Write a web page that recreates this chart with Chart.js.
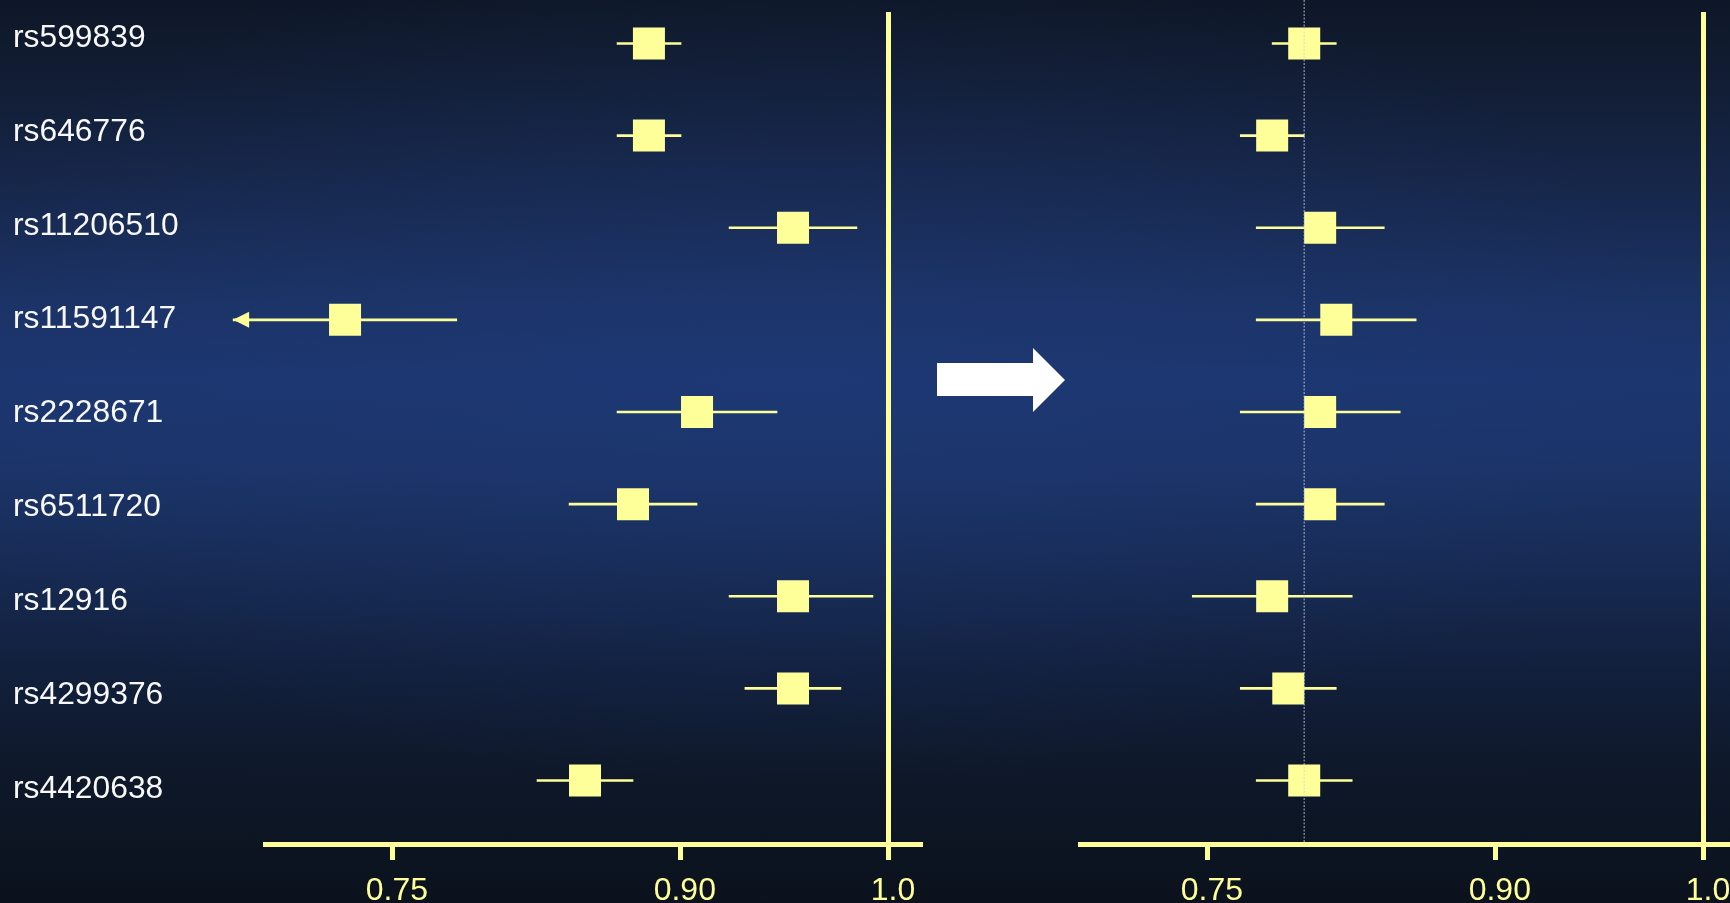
<!DOCTYPE html>
<html>
<head>
<meta charset="utf-8">
<script src="https://cdn.jsdelivr.net/npm/chart.js@4/dist/chart.umd.min.js"></script>
<style>
html, body { margin: 0; padding: 0; }
body {
  width: 1730px; height: 903px; overflow: hidden; position: relative;
  background:
    radial-gradient(ellipse 900px 420px at 45% 40%, rgba(32,60,125,0.30), rgba(32,60,125,0) 100%),
    linear-gradient(180deg, #0e1727 0%, #121e36 10%, #17284d 22%, #1b3366 34%, #1c3670 42%, #1b3468 52%, #172b55 62%, #12203d 74%, #0e1829 86%, #0b121d 100%);
}
#cBefore { position: absolute; left: 0; top: 0; width: 935px; height: 903px; }
#cAfter { position: absolute; left: 1060px; top: 0; width: 680px; height: 903px; }
#arrow { position: absolute; left: 0; top: 0; }
</style>
</head>
<body>
<canvas id="cBefore" width="935" height="903"></canvas>
<svg id="arrow" width="1730" height="903"><polygon points="937,363 1033,363 1033,348 1065,380 1033,412 1033,396 937,396" fill="#ffffff"/></svg>
<canvas id="cAfter" width="680" height="903"></canvas>
<script>
// ---------------- data ----------------
const categories = ['rs599839', 'rs646776', 'rs11206510', 'rs11591147', 'rs2228671', 'rs6511720', 'rs12916', 'rs4299376', 'rs4420638'];

// left panel (before)
const orBefore = [0.8834, 0.8834, 0.9539, 0.7251, 0.9078, 0.8751, 0.9539, 0.9539, 0.8501];
const loBefore = [0.8668, 0.8668, 0.9232, 0.6668, 0.8668, 0.8418, 0.9232, 0.9308, 0.8251];
const hiBefore = [0.9001, 0.9001, 0.9846, 0.7833, 0.9462, 0.9078, 0.9923, 0.9769, 0.8751];

// right panel (after)
const orAfter = [0.8002, 0.7835, 0.8085, 0.8169, 0.8085, 0.8085, 0.7835, 0.7919, 0.8002];
const loAfter = [0.7835, 0.7669, 0.7752, 0.7752, 0.7669, 0.7752, 0.7419, 0.7669, 0.7752];
const hiAfter = [0.8169, 0.8002, 0.8419, 0.8585, 0.8502, 0.8419, 0.8252, 0.8169, 0.8252];
const pooledAfter = [0.8002];

const tickValues = [0.75, 0.90, 1.0];
const tickLabels = ['0.75', '0.90', '1.0'];

// ---------------- style ----------------
const YELLOW = '#ffff99';
const LABEL = '#f8f8f8';
const AXIS_WARP = [0, 0.5804, 1];   // relative spacing of the printed tick values
Chart.defaults.font.family = "'Liberation Sans', Arial, sans-serif";

class WarpScale extends Chart.LinearScale {
  _u(v) {
    const a = tickValues, f = AXIS_WARP;
    let k = 0;
    while (k < a.length - 2 && v > a[k + 1]) k++;
    return f[k] + (v - a[k]) * (f[k + 1] - f[k]) / (a[k + 1] - a[k]);
  }
  _v(u) {
    const a = tickValues, f = AXIS_WARP;
    let k = 0;
    while (k < f.length - 2 && u > f[k + 1]) k++;
    return a[k] + (u - f[k]) * (a[k + 1] - a[k]) / (f[k + 1] - f[k]);
  }
  getPixelForValue(value) {
    if (value === null || value === undefined || isNaN(value)) return NaN;
    const u0 = this._u(this.min), u1 = this._u(this.max);
    return this.getPixelForDecimal((this._u(value) - u0) / (u1 - u0));
  }
  getValueForPixel(pixel) {
    const u0 = this._u(this.min), u1 = this._u(this.max);
    return this._v(u0 + this.getDecimalForPixel(pixel) * (u1 - u0));
  }
}
WarpScale.id = 'warp';
WarpScale.defaults = Chart.LinearScale.defaults;
Chart.register(WarpScale);

function xScaleOpts() {
  return {
    type: 'warp', min: 0.6834, max: 1.0149, bounds: 'data', offset: false,
    afterBuildTicks: s => { s.ticks = tickValues.map(v => ({ value: v })); },
    afterFit: s => { s.height = 59; s.paddingLeft = 0; s.paddingRight = 0; },
    ticks: {
      autoSkip: false, maxRotation: 0, minRotation: 0, color: YELLOW,
      font: { size: 32 }, padding: 12, labelOffset: 4,
      callback: (v, i) => tickLabels[i]
    },
    grid: {
      offset: false, drawOnChartArea: true,
      color: c => (c.tick && c.tick.value === 1) ? YELLOW : 'rgba(0,0,0,0)',
      lineWidth: 5, tickColor: YELLOW, tickWidth: 5, tickLength: 16
    },
    border: { display: true, color: YELLOW, width: 5 }
  };
}

function yDataOpts() {
  return { type: 'linear', display: false, reverse: true, offset: false, grid: { offset: false },
           min: -0.3416, max: 8.689, bounds: 'data' };
}

const truncArrows = (lo) => ({
  id: 'truncArrows',
  afterDatasetsDraw(chart) {
    const x = chart.scales.x, y = chart.scales.y, ctx = chart.ctx;
    ctx.save();
    ctx.fillStyle = YELLOW;
    lo.forEach((v, i) => {
      if (v < x.min) {
        const tx = x.getPixelForValue(v), ty = y.getPixelForValue(i);
        ctx.beginPath();
        ctx.moveTo(tx, ty);
        ctx.lineTo(tx + 16, ty - 8);
        ctx.lineTo(tx + 16, ty + 8);
        ctx.closePath();
        ctx.fill();
      }
    });
    ctx.restore();
  }
});

const pooledLine = (vals) => ({
  id: 'pooledLine',
  afterDatasetsDraw(chart) {
    const x = chart.scales.x, ctx = chart.ctx;
    ctx.save();
    ctx.strokeStyle = 'rgba(205,210,230,0.55)';
    ctx.lineWidth = 1.5;
    ctx.setLineDash([2, 1.5]);
    vals.forEach(v => {
      const px = x.getPixelForValue(v);
      ctx.beginPath();
      ctx.moveTo(px, 0);
      ctx.lineTo(px, chart.chartArea.bottom);
      ctx.stroke();
    });
    ctx.restore();
  }
});

function datasetsFor(or, lo, hi) {
  return [
    {
      type: 'bar', indexAxis: 'y', xAxisID: 'x', yAxisID: 'y', order: 2,
      data: categories.map((c, i) => ({ x: [lo[i], hi[i]], y: i })),
      backgroundColor: YELLOW, borderWidth: 0, barThickness: 2, clip: false
    },
    {
      type: 'scatter', xAxisID: 'x', yAxisID: 'y', order: 1,
      data: categories.map((c, i) => ({ x: or[i], y: i })),
      pointStyle: 'rect', pointRadius: 22.63, pointHoverRadius: 22.63,
      backgroundColor: YELLOW, borderWidth: 0, clip: false
    }
  ];
}

const common = {
  responsive: false, devicePixelRatio: 1, animation: false, events: [],
  plugins: { legend: { display: false }, tooltip: { enabled: false } }
};

new Chart(document.getElementById('cBefore'), {
  type: 'scatter',
  data: { datasets: datasetsFor(orBefore, loBefore, hiBefore) },
  options: Object.assign({}, common, {
    layout: { autoPadding: false, padding: { left: 13, top: 12, right: 15, bottom: 0 } },
    scales: {
      x: xScaleOpts(),
      y: yDataOpts(),
      yl: {
        type: 'linear', position: 'left', reverse: true, offset: false, min: -0.277, max: 8.584, bounds: 'data',
        afterBuildTicks: s => { s.ticks = categories.map((c, i) => ({ value: i })); },
        afterFit: s => { s.width = 252; s.paddingTop = 0; s.paddingBottom = 0; },
        ticks: { color: LABEL, font: { size: 31.8 }, padding: 0, crossAlign: 'far', autoSkip: false,
                 callback: v => categories[v] },
        grid: { display: false }, border: { display: false }
      }
    }
  }),
  plugins: [truncArrows(loBefore)]
});

new Chart(document.getElementById('cAfter'), {
  type: 'scatter',
  data: { datasets: datasetsFor(orAfter, loAfter, hiAfter) },
  options: Object.assign({}, common, {
    layout: { autoPadding: false, padding: { left: 20, top: 12, right: 5, bottom: 0 } },
    scales: {
      x: xScaleOpts(),
      y: yDataOpts()
    }
  }),
  plugins: [truncArrows(loAfter), pooledLine(pooledAfter)]
});
</script>
</body>
</html>
